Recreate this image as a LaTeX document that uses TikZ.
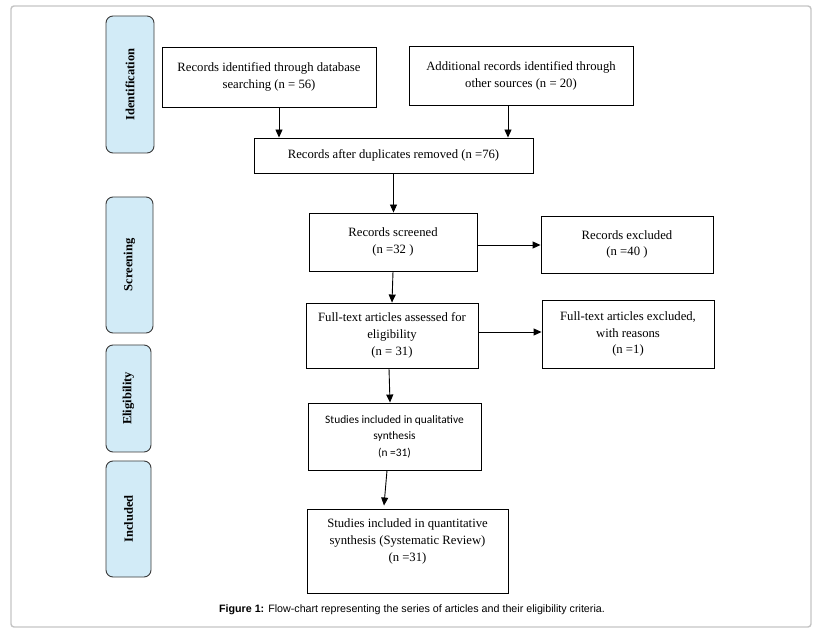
\documentclass[tikz,border=0pt]{standalone}
\usepackage{fontspec}
\setmainfont{Liberation Serif}
\newfontfamily\calibrifont{Carlito}
\newfontfamily\arialfont{Liberation Sans}
\usetikzlibrary{arrows.meta}
\definecolor{sidefill}{HTML}{D2EBF7}
\definecolor{sideline}{HTML}{3A3A3A}
\definecolor{framegray}{HTML}{C4C4C4}
\tikzset{
  box/.style={draw=black, line width=0.9pt, fill=white, align=center, inner sep=2pt,
    font=\fontsize{12.7}{16.8}\selectfont},
  sbox/.style={box, font=\calibrifont\fontsize{11.4}{16.5}\selectfont},
  side/.style={draw=sideline, line width=0.9pt, fill=sidefill, rounded corners=7pt,
    rotate=90, font=\bfseries\fontsize{12.5}{14}\selectfont, inner sep=0pt},
  arr/.style={line width=0.9pt, -{Triangle[length=8pt,width=7pt]}},
}
\begin{document}
\begin{tikzpicture}[x=1pt,y=-1pt]
\useasboundingbox (0,0) rectangle (823,636);
\draw[framegray, line width=1.4pt, rounded corners=3pt] (11,6) rectangle (811,627);

% side labels
\node[side, minimum width=137pt, minimum height=48pt] (s1) at (130,84.5) {Identification};
\node[side, minimum width=136pt, minimum height=47pt] (s2) at (129.5,265) {Screening};
\node[side, minimum width=107pt, minimum height=45pt] (s3) at (128.5,398.5) {Eligibility};
\node[side, minimum width=116pt, minimum height=45pt] (s4) at (128.5,519) {Included};

% boxes
\node[box, minimum width=214pt, minimum height=60pt] (b1) at (269,77)
  {Records identified through database\\searching (n = 56)};
\node[box, minimum width=224pt, minimum height=59pt] (b2) at (521,75.5)
  {Additional records identified through\\other sources (n = 20)};
\node[box, minimum width=279pt, minimum height=35pt] (b3) at (393.5,155.5)
  {Records after duplicates removed (n =76)};
\node[box, minimum width=168pt, minimum height=58pt] (b4) at (393,242)
  {Records screened\\(n =32 )};
\node[box, minimum width=172pt, minimum height=57pt] (b5) at (627,244.5)
  {Records excluded\\(n =40 )};
\node[box, minimum width=172pt, minimum height=65pt] (b6) at (392,335.5)
  {Full-text articles assessed for\\eligibility\\(n = 31)};
\node[box, minimum width=172pt, minimum height=68pt] (b7) at (628,334)
  {Full-text articles excluded,\\with reasons\\(n =1)};
\node[sbox, minimum width=173pt, minimum height=67pt] (b8) at (394.5,436.5)
  {Studies included in qualitative\\synthesis\\(n =31)};
\node[box, minimum width=201pt, minimum height=84pt] (b9) at (407.5,551)
  {Studies included in quantitative\\synthesis (Systematic Review)\\(n =31)\\\strut};

% connectors
\draw[arr] ([xshift=10pt]b1.south) -- ([xshift=10pt]b1.south |- b3.north);
\draw[arr] ([xshift=-13pt]b2.south) -- ([xshift=-13pt]b2.south |- b3.north);
\draw[arr] (b3.south) -- (b3.south |- b4.north);
\draw[arr] ([yshift=-3pt]b4.east) -- ([yshift=-3pt]b4.east -| b5.west);
\draw[arr] (b4.south) -- (b6.north);
\draw[arr] ([yshift=3.5pt]b6.east) -- ([yshift=3.5pt]b6.east -| b7.west);
\draw[arr] ([xshift=-3pt]b6.south) -- ([xshift=-4.5pt]b8.north);
\draw[arr] ([xshift=-7.5pt]b8.south) -- ([xshift=-23.5pt,yshift=3pt]b9.north);

% caption
\node[font=\arialfont\fontsize{10.7}{12}\selectfont] (cap) at (412,610)
  {\textbf{Figure 1:} Flow-chart representing the series of articles and their eligibility criteria.};
\end{tikzpicture}
\end{document}
